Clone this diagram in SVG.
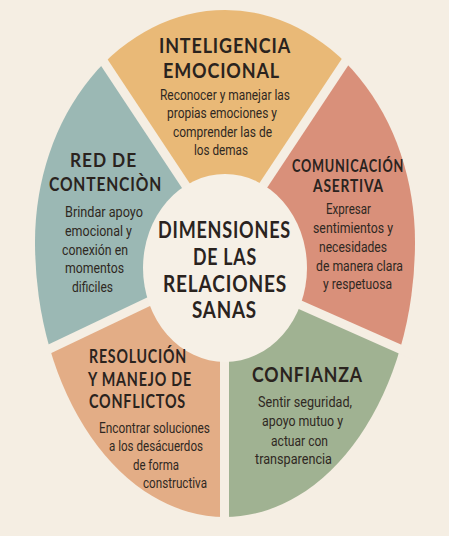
<svg xmlns="http://www.w3.org/2000/svg" width="449" height="536" viewBox="0 0 449 536">
<style>
.t{font-family:Lato,"Open Sans","DejaVu Sans",sans-serif;font-weight:700;fill:#2a231e;text-anchor:middle;letter-spacing:1px}
.b{font-family:Roboto,"Liberation Sans",sans-serif;font-size:14.5px;fill:#2f2822;text-anchor:middle}
.gap{stroke:#f5eee3;stroke-width:9;fill:none}
</style>
<defs>
<clipPath id="oval"><path d="M35 242 A190 232 0 0 1 415 242 A190 275 0 0 1 35 242 Z"/></clipPath>
</defs>
<rect width="449" height="536" fill="#f5eee3"/>
<g clip-path="url(#oval)">
<g id="inteligencia">
<polygon points="225,268 200,207 31,-48 418,-48 249,207" fill="#e9b977"/>
</g>
<g id="comunicacion">
<polygon points="225,268 249,207 418,-48 524,-48 524,404 260,287" fill="#d9907a"/>
</g>
<g id="confianza">
<polygon points="225,268 260,287 524,404 524,560 224.5,560 224.5,300" fill="#a0b292"/>
</g>
<g id="resolucion">
<polygon points="225,268 224.5,300 224.5,560 -81,560 -81,411 190,282" fill="#e3ad86"/>
</g>
<g id="red">
<polygon points="225,268 190,282 -81,411 -81,-48 31,-48 200,207" fill="#9bb8b4"/>
</g>
</g>
<g id="separators" class="gap">
<line x1="31" y1="-48" x2="200" y2="207"/>
<line x1="418" y1="-48" x2="249" y2="207"/>
<line x1="524" y1="404" x2="260" y2="287"/>
<line x1="224.5" y1="300" x2="224.5" y2="560"/>
<line x1="-81" y1="411" x2="190" y2="282"/>
</g>
<g id="centro">
<ellipse cx="225" cy="268" rx="82" ry="94" fill="#f6f0e6"/>
<text class="t" font-size="23" x="224.5" y="238" textLength="133" lengthAdjust="spacingAndGlyphs">DIMENSIONES</text>
<text class="t" font-size="23" x="225" y="265" textLength="64" lengthAdjust="spacingAndGlyphs">DE LAS</text>
<text class="t" font-size="23" x="225" y="292" textLength="124" lengthAdjust="spacingAndGlyphs">RELACIONES</text>
<text class="t" font-size="23" x="224.5" y="318" textLength="65" lengthAdjust="spacingAndGlyphs">SANAS</text>
</g>
<g id="inteligencia-text">
<text class="t" font-size="21" x="225" y="53" textLength="132" lengthAdjust="spacingAndGlyphs">INTELIGENCIA</text>
<text class="t" font-size="21" x="221.5" y="78" textLength="117" lengthAdjust="spacingAndGlyphs">EMOCIONAL</text>
<text class="b" x="225" y="100" textLength="130" lengthAdjust="spacingAndGlyphs">Reconocer y manejar las</text>
<text class="b" x="222" y="118" textLength="110" lengthAdjust="spacingAndGlyphs">propias emociones y</text>
<text class="b" x="222.5" y="137" textLength="99" lengthAdjust="spacingAndGlyphs">comprender las de</text>
<text class="b" x="221" y="155" textLength="54" lengthAdjust="spacingAndGlyphs">los demas</text>
</g>
<g id="red-text">
<text class="t" font-size="19" x="103.5" y="167" textLength="67" lengthAdjust="spacingAndGlyphs">RED DE</text>
<text class="t" font-size="19" x="105.5" y="191" textLength="113" lengthAdjust="spacingAndGlyphs">CONTENCIÒN</text>
<text class="b" x="104" y="217" textLength="78" lengthAdjust="spacingAndGlyphs">Brindar apoyo</text>
<text class="b" x="98.5" y="236" textLength="67" lengthAdjust="spacingAndGlyphs">emocional y</text>
<text class="b" x="95" y="255" textLength="66" lengthAdjust="spacingAndGlyphs">conexión en</text>
<text class="b" x="94.5" y="273" textLength="59" lengthAdjust="spacingAndGlyphs">momentos</text>
<text class="b" x="92.5" y="292" textLength="41" lengthAdjust="spacingAndGlyphs">dificiles</text>
</g>
<g id="comunicacion-text">
<text class="t" font-size="16.5" x="348" y="172" textLength="112" lengthAdjust="spacingAndGlyphs">COMUNICACIÓN</text>
<text class="t" font-size="16.5" x="348.5" y="192" textLength="71" lengthAdjust="spacingAndGlyphs">ASERTIVA</text>
<text class="b" x="348.5" y="213.5" textLength="45" lengthAdjust="spacingAndGlyphs">Expresar</text>
<text class="b" x="353" y="233" textLength="80" lengthAdjust="spacingAndGlyphs">sentimientos y</text>
<text class="b" x="353" y="252" textLength="68" lengthAdjust="spacingAndGlyphs">necesidades</text>
<text class="b" x="359.5" y="271" textLength="87" lengthAdjust="spacingAndGlyphs">de manera clara</text>
<text class="b" x="357.5" y="289" textLength="69" lengthAdjust="spacingAndGlyphs">y respetuosa</text>
</g>
<g id="resolucion-text">
<text class="t" font-size="18" x="138" y="363" textLength="98" lengthAdjust="spacingAndGlyphs">RESOLUCIÓN</text>
<text class="t" font-size="18" x="140" y="386" textLength="104" lengthAdjust="spacingAndGlyphs">Y MANEJO DE</text>
<text class="t" font-size="18" x="137.5" y="408" textLength="97" lengthAdjust="spacingAndGlyphs">CONFLICTOS</text>
<text class="b" x="154.5" y="433" textLength="111" lengthAdjust="spacingAndGlyphs">Encontrar soluciones</text>
<text class="b" x="156" y="451" textLength="94" lengthAdjust="spacingAndGlyphs">a los desácuerdos</text>
<text class="b" x="156" y="470" textLength="46" lengthAdjust="spacingAndGlyphs">de forma</text>
<text class="b" x="175" y="488" textLength="64" lengthAdjust="spacingAndGlyphs">constructiva</text>
</g>
<g id="confianza-text">
<text class="t" font-size="21" x="307.5" y="382" textLength="111" lengthAdjust="spacingAndGlyphs">CONFIANZA</text>
<text class="b" x="305" y="407" textLength="94" lengthAdjust="spacingAndGlyphs">Sentir seguridad,</text>
<text class="b" x="302.5" y="426" textLength="81" lengthAdjust="spacingAndGlyphs">apoyo mutuo y</text>
<text class="b" x="299.5" y="446" textLength="57" lengthAdjust="spacingAndGlyphs">actuar con</text>
<text class="b" x="293.5" y="464" textLength="77" lengthAdjust="spacingAndGlyphs">transparencia</text>
</g>
</svg>
